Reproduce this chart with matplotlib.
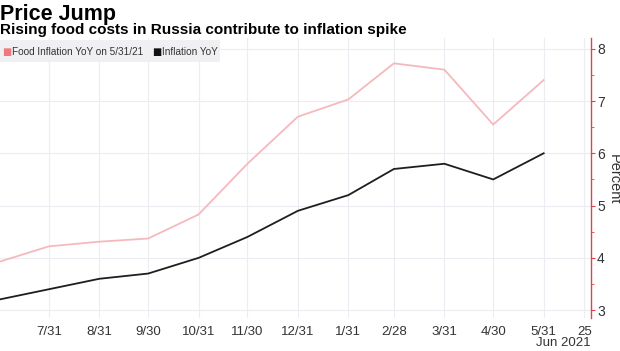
import matplotlib.pyplot as plt
import matplotlib.patches as mpatches
import numpy as np
import pandas as pd

# monthly data, YoY %
dates = pd.to_datetime(["2020-06-30", "2020-07-31", "2020-08-31", "2020-09-30",
                        "2020-10-31", "2020-11-30", "2020-12-31", "2021-01-31",
                        "2021-02-28", "2021-03-31", "2021-04-30", "2021-05-31"])
food = [3.92, 4.22, 4.31, 4.37, 4.83, 5.8, 6.7, 7.03, 7.72, 7.6, 6.55, 7.4]
inflation = [3.2, 3.4, 3.6, 3.7, 4.0, 4.4, 4.9, 5.2, 5.7, 5.8, 5.5, 6.0]

tick_dates = pd.to_datetime(["2020-07-31", "2020-08-31", "2020-09-30", "2020-10-31",
                             "2020-11-30", "2020-12-31", "2021-01-31", "2021-02-28",
                             "2021-03-31", "2021-04-30", "2021-05-31", "2021-06-25"])
tick_labels = ["7/31", "8/31", "9/30", "10/31", "11/30", "12/31", "1/31", "2/28",
               "3/31", "4/30", "5/31", "25"]

plt.rcParams['font.family'] = ['Liberation Sans', 'DejaVu Sans']

fig = plt.figure(figsize=(6.2, 3.51), dpi=100)
ax = fig.add_axes([0.0, 0.094, 0.953, 0.797])

ax.plot(dates, food, color='#f5b9bd', lw=1.3)
ax.plot(dates, inflation, color='#1e1e1e', lw=1.3)

ax.set_xlim(pd.Timestamp("2020-07-01"), pd.Timestamp("2021-06-29"))
ax.set_ylim(2.85, 8.2)

ax.set_xticks(tick_dates)
ax.set_xticklabels(tick_labels, fontsize=9.5, color='#333333')
ax.tick_params(axis='x', length=0, pad=6)
fig.text(0.953, 0.005, "Jun 2021", fontsize=9.5, color='#333333', ha='right', va='bottom')

ax.yaxis.tick_right()
ax.set_yticks([3, 4, 5, 6, 7, 8])
ax.set_yticks(np.arange(3, 8.01, 0.5), minor=True)
ax.tick_params(axis='y', which='major', length=3, color='#e8404a', labelsize=10,
               labelcolor='#333333', pad=1.5)
ax.tick_params(axis='y', which='minor', length=2, color='#e8404a')
fig.text(0.99, 0.49, "Percent", rotation=-90, fontsize=10.5, color='#333333',
         ha='center', va='center')

ax.grid(True, color='#ececf2', lw=0.8)
ax.set_axisbelow(True)
for s in ['top', 'left', 'bottom']:
    ax.spines[s].set_visible(False)
ax.spines['right'].set_color('#e8404a')
ax.spines['right'].set_linewidth(1.0)

# legend strip
fig.patches.append(mpatches.Rectangle((0, 0.823), 0.355, 0.063, transform=fig.transFigure,
                                      facecolor='#f0f0f2', edgecolor='none', zorder=0))
fig.text(0.004, 0.853, "■", color='#f0787c', fontsize=7, va='center', family='DejaVu Sans')
fig.text(0.020, 0.853, "Food Inflation YoY on 5/31/21", fontsize=7.2, color='#333333', va='center')
fig.text(0.245, 0.853, "■", color='#111111', fontsize=7, va='center', family='DejaVu Sans')
fig.text(0.261, 0.853, "Inflation YoY", fontsize=7.2, color='#333333', va='center')

fig.text(0.0, 0.99, "Price Jump", fontsize=15.5, fontweight='bold', va='top')
fig.text(0.0, 0.935, "Rising food costs in Russia contribute to inflation spike",
         fontsize=11, fontweight='bold', va='top')

fig.savefig("out.png", dpi=100)
